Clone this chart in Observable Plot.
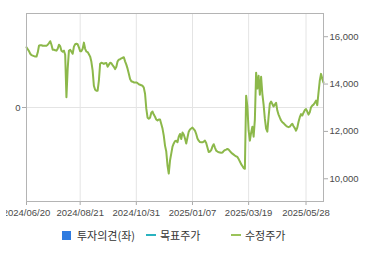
<!DOCTYPE html>
<html>
<head>
<meta charset="utf-8">
<script src="https://cdn.jsdelivr.net/npm/d3@7"></script>
<script src="https://cdn.jsdelivr.net/npm/@observablehq/plot@0.6"></script>
<style>
  html, body { margin: 0; padding: 0; background: #fff; }
  #wrap { position: relative; width: 370px; height: 222px; overflow: hidden; clip-path: inset(0 0 0 6px); }
  #wrap svg { position: absolute; left: 0; top: 0; }
  #legend { position: relative; width: 370px; height: 33px; font-family: "Noto Sans CJK KR", sans-serif; font-size: 11px; color: #333; }
  #legend .it { position: absolute; top: 6px; display: flex; align-items: center; height: 14px; }
  #legend .sq { width: 9px; height: 9px; margin-right: 6px; }
  #legend .ln { width: 10px; height: 2px; margin-right: 4px; }
</style>
</head>
<body>
<div id="wrap"></div>
<div id="legend"></div>
<script>
// 수정주가 (adjusted close), one value per trading day, 2024/06/20 .. 2025/06
const prices = [
  15550,15470,15390,15280,15220,15200,15180,15160,15160,15330,
  15620,15640,15640,15620,15620,15620,15620,15660,15730,15810,
  15660,15450,15450,15430,15410,15490,15660,15600,15410,15370,
  15410,15240,13440,14650,15410,15450,15370,15280,15580,15680,
  15700,15680,15550,15390,15390,15490,15750,15490,15370,15350,
  15260,15160,14940,14570,13930,13760,13720,13720,14140,14860,
  14900,14880,14850,14880,14890,14730,14820,14900,14880,14800,
  14730,14630,14730,14960,15030,15050,15080,15110,15130,14960,
  14820,14650,14440,14210,14120,14100,14070,14070,14070,14040,
  13990,13970,13950,13930,13850,13590,12960,12580,12540,12580,
  12790,12840,12710,12620,12500,12460,12500,12500,12310,12120,
  11820,11400,11150,10560,10220,10770,11060,11360,11490,11590,
  11610,11540,11780,11890,11680,11950,11870,11700,11490,11740,
  11990,12080,12120,12160,12100,12030,11890,11700,11610,11550,
  11540,11540,11570,11610,11510,11320,11130,11150,11210,11360,
  11460,11320,11190,11150,11120,11110,11100,11110,11170,11210,
  11230,11260,11230,11170,11110,11060,11020,10980,10950,10920,
  10830,10730,10620,10540,10450,10420,13510,13050,12030,11610,
  11950,12200,11780,12500,14480,13810,14350,13550,14310,13590,
  13130,12540,12120,11990,12620,13170,13260,13160,13050,13130,
  13210,12880,12710,12580,12460,12390,12350,12290,12240,12200,
  12180,12200,12270,12320,12220,12140,12030,12160,12410,12600,
  12730,12670,12790,12900,12940,12840,12710,12810,13020,13090,
  13130,13210,13300,13110,13640,14140,14430,14230,14060
];
const tickDays = [0, 43, 88, 133, 178, 224];
const tickLabels = ["2024/06/20", "2024/08/21", "2024/10/31", "2025/01/07", "2025/03/19", "2025/05/28"];
const priceTicks = [10000, 12000, 14000, 16000];
const opinionTicks = [0];
const legendItems = ["투자의견(좌)", "목표주가", "수정주가"];

const data = prices.map((p, i) => ({day: i, price: p}));
const N = prices.length;

const W = 370, H = 222;
const margins = {marginLeft: 26, marginRight: 47, marginTop: 13, marginBottom: 21};
const font = "Liberation Sans, Arial, sans-serif";
const labelColor = "#4a4a4a";

// background chart: left (opinion) axis, grid, date axis
const back = Plot.plot({
  width: W, height: H, ...margins,
  style: {background: "transparent", fontFamily: font, fontSize: "9.5px", color: labelColor},
  x: {domain: [0, N - 1]},
  y: {domain: [-1, 1]},
  marks: [
    Plot.gridX(tickDays, {stroke: "#e4e4e4", strokeOpacity: 1}),
    Plot.gridY(opinionTicks, {stroke: "#e4e4e4", strokeOpacity: 1}),
    Plot.axisY(opinionTicks, {anchor: "left", tickSize: 4, tickPadding: 2, stroke: "#aaa", tickFormat: d => String(d), label: null}),
    Plot.axisX(tickDays, {anchor: "bottom", tickSize: 4, tickPadding: 4, stroke: "#aaa", tickFormat: d => tickLabels[tickDays.indexOf(d)], label: null})
  ]
});

// foreground chart: price line with right axis
const front = Plot.plot({
  width: W, height: H, ...margins,
  style: {background: "transparent", fontFamily: font, fontSize: "9.5px", color: labelColor},
  x: {domain: [0, N - 1], axis: null},
  y: {domain: [9040, 16980]},
  marks: [
    Plot.axisY(priceTicks, {anchor: "right", tickSize: 4, tickPadding: 2, stroke: "#aaa", tickFormat: d3.format(","), label: null}),
    Plot.lineY(data, {x: "day", y: "price", stroke: "#8cb84a", strokeWidth: 2}),
    Plot.frame({stroke: "#b4b4b4"})
  ]
});

const wrap = document.getElementById("wrap");
wrap.appendChild(back);
wrap.appendChild(front);

const legend = document.getElementById("legend");
const legendColors = ["#2f7be0", "#2ab3c0", "#9bc35a"];
const legendLeft = [62, 146, 231];
legendItems.forEach((name, k) => {
  const it = document.createElement("div");
  it.className = "it";
  it.style.left = legendLeft[k] + "px";
  const sw = document.createElement("span");
  sw.className = k === 0 ? "sq" : "ln";
  sw.style.background = legendColors[k];
  const tx = document.createElement("span");
  tx.textContent = name;
  it.appendChild(sw);
  it.appendChild(tx);
  legend.appendChild(it);
});
</script>
</body>
</html>
